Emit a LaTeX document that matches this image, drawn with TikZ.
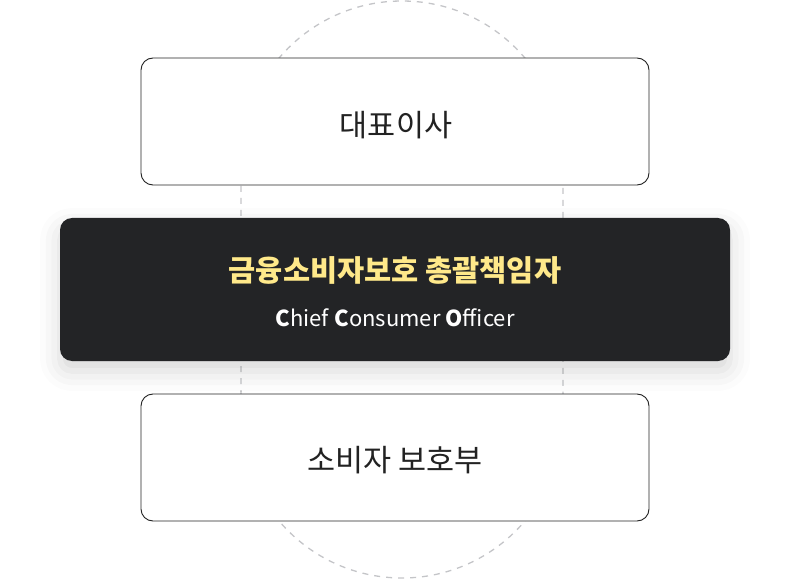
\documentclass[tikz,border=0pt]{standalone}
\usepackage{fontspec}
\setmainfont{Noto Sans CJK KR}
\newfontfamily\krfont{Noto Sans CJK KR}
\usetikzlibrary{shadows.blur}
\definecolor{darkbg}{HTML}{232426}
\definecolor{titleyellow}{HTML}{FFE98A}
\definecolor{dashgray}{HTML}{C4C5C8}
\definecolor{edgecol}{HTML}{222222}
\tikzset{
  whitebox/.style={draw=edgecol, line width=0.9pt, fill=white, rounded corners=12pt,
    minimum width=508pt, minimum height=127pt, inner sep=0pt},
  boxlabel/.style={text=edgecol, inner sep=0pt, font=\krfont\fontsize{30.5}{34}\selectfont},
  darkbox/.style={fill=darkbg, rounded corners=12pt, minimum width=670pt, minimum height=143pt,
    inner sep=0pt, blur shadow={shadow xshift=0pt, shadow yshift=-10pt, shadow blur radius=20pt, shadow opacity=16}},
  track/.style={dashgray, line width=1.3pt, dash pattern=on 6pt off 6pt},
}
\begin{document}
\begin{tikzpicture}[x=1pt,y=-1pt]
\useasboundingbox (0,0) rectangle (790,580);
\draw[track, rounded corners=161pt] (241,1) rectangle (563,578);
\node[whitebox] (ceo) at (395,121.5) {};
\node[boxlabel] (ceotext) at (396,125) {대표이사};
\node[whitebox] (dept) at (395,457.5) {};
\node[boxlabel] (depttext) at (395,460) {소비자 보호부};
\node[darkbox] (cco) at (395,289.5) {};
\node[text=titleyellow, inner sep=0pt, font=\krfont\bfseries\fontsize{29.5}{34}\selectfont] (ccotitle) at (395,270) {금융소비자보호 총괄책임자};
\node[text=white, inner sep=0pt, font=\krfont\fontsize{22}{26}\selectfont] (ccosub) at (395,318) {\textbf{C}hief \textbf{C}onsumer \textbf{O}fficer};
\end{tikzpicture}
\end{document}
